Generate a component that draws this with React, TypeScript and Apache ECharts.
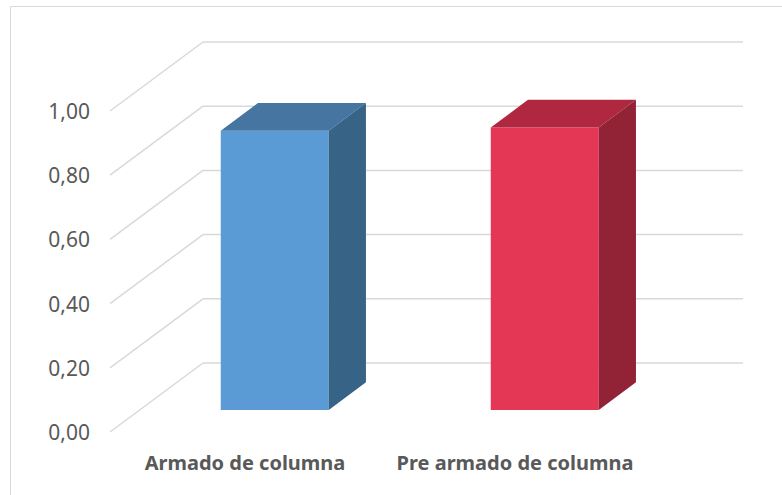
import React, { useEffect, useRef } from "react";
import * as echarts from "echarts";

const categories = ["Armado de columna", "Pre armado de columna"];
const values = [0.87, 0.88];
const yTicks = [0, 0.2, 0.4, 0.6, 0.8, 1.0];

const barColors = [
  { front: "#5B9BD5", top: "#4575A0", side: "#376386" },
  { front: "#E43755", top: "#AF2840", side: "#922236" },
];

const DX = 93;
const DY = 69;
const BAR_FRONT = 0.32;
const BAR_DEPTH = 0.4;
const BAR_WIDTH = 0.4;

export default function App() {
  const ref = useRef<HTMLDivElement>(null);
  useEffect(() => {
    if (!ref.current) return;
    const chart = echarts.init(ref.current, null, { renderer: "svg" });
    const option: any = {
      animation: false,
      backgroundColor: "#ffffff",
      textStyle: { fontFamily: "Noto Sans" },
      graphic: [
        {
          type: "rect",
          shape: { x: 10.5, y: 6.5, width: 900, height: 700 },
          style: { fill: "none", stroke: "#d9d9d9", lineWidth: 1 },
          silent: true,
          z: 0,
        },
      ],
      grid: { left: 110, top: 111, width: 540, height: 321, containLabel: false },
      xAxis: {
        type: "category",
        data: categories,
        axisLine: { show: false },
        axisTick: { show: false },
        axisLabel: {
          interval: 0,
          hideOverlap: false,
          color: "#595959",
          fontFamily: "Noto Sans",
          fontWeight: "bold",
          fontSize: 20,
          margin: 20,
        },
      },
      yAxis: {
        type: "value",
        min: 0,
        max: 1,
        interval: 0.2,
        axisLine: { show: false },
        axisTick: { show: false },
        splitLine: { show: false },
        axisLabel: {
          color: "#595959",
          fontFamily: "Noto Sans",
          fontSize: 21,
          margin: 20,
          formatter: (v: number) => v.toFixed(2).replace(".", ","),
        },
      },
      series: [
        {
          type: "custom",
          silent: true,
          z: 1,
          data: yTicks.map((v) => [0, v]),
          renderItem: (params: any, api: any) => {
            const v = api.value(1);
            const p = api.coord([0, v]);
            const x0 = params.coordSys.x;
            const w = params.coordSys.width;
            const y = p[1];
            const style = { stroke: "#d9d9d9", lineWidth: 1.5 };
            return {
              type: "group",
              children: [
                { type: "line", shape: { x1: x0, y1: y, x2: x0 + DX, y2: y - DY }, style },
                { type: "line", shape: { x1: x0 + DX, y1: y - DY, x2: x0 + DX + w, y2: y - DY }, style },
              ],
            };
          },
        },
        {
          type: "custom",
          z: 2,
          data: values.map((v, i) => [i, v]),
          renderItem: (params: any, api: any) => {
            const idx = api.value(0);
            const v = api.value(1);
            const base = api.coord([idx, 0]);
            const topP = api.coord([idx, v]);
            const band = api.size([1, 0])[0];
            const w = band * BAR_WIDTH;
            const ox = DX * BAR_FRONT;
            const oy = DY * BAR_FRONT;
            const bx = DX * BAR_DEPTH;
            const by = DY * BAR_DEPTH;
            const x0 = base[0] - w / 2 + ox;
            const x1 = x0 + w;
            const yb = base[1] - oy;
            const yt = topP[1] - oy;
            const c = barColors[idx % barColors.length];
            return {
              type: "group",
              children: [
                {
                  type: "polygon",
                  shape: { points: [[x0, yt], [x1, yt], [x1, yb], [x0, yb]] },
                  style: { fill: c.front },
                },
                {
                  type: "polygon",
                  shape: { points: [[x0, yt], [x0 + bx, yt - by], [x1 + bx, yt - by], [x1, yt]] },
                  style: { fill: c.top },
                },
                {
                  type: "polygon",
                  shape: { points: [[x1, yt], [x1 + bx, yt - by], [x1 + bx, yb - by], [x1, yb]] },
                  style: { fill: c.side },
                },
              ],
            };
          },
        },
      ],
    };
    chart.setOption(option);
    return () => chart.dispose();
  }, []);
  return (
    <div
      ref={ref}
      style={{ position: "absolute", left: 0, top: 0, width: 782, height: 495 }}
    />
  );
}
